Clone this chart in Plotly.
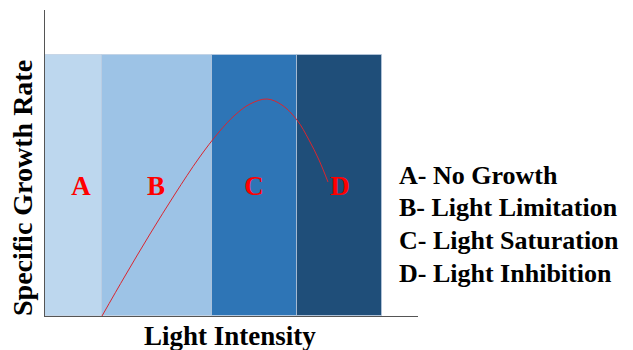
import plotly.graph_objects as go

# Regions (x in arbitrary light-intensity units)
region_labels = ["A", "B", "C", "D"]
region_edges = [0, 57, 167, 252, 337]
region_height = [261, 261, 261, 261]
region_colors = ["#BDD7EE", "#9DC3E6", "#2E75B6", "#1F4E79"]
label_x = [36, 111, 209, 295]
label_y = 128

# Growth curve
curve_x = [57, 80, 105, 130, 154, 174, 190, 205, 222, 237, 252, 264, 274, 283]
curve_y = [0, 40, 82, 122, 158, 184, 201, 212, 217, 211, 196, 176, 156, 134]

legend_lines = ["A- No Growth", "B- Light Limitation", "C- Light Saturation", "D- Light Inhibition"]

serif = "Liberation Serif"

centers = [(region_edges[i] + region_edges[i + 1]) / 2 for i in range(4)]
widths = [region_edges[i + 1] - region_edges[i] for i in range(4)]

fig = go.Figure()
fig.add_trace(go.Bar(
    x=centers, y=region_height, width=widths,
    marker=dict(color=region_colors, line=dict(color="rgba(190,205,225,0.7)", width=1)),
    hoverinfo="skip", showlegend=False,
))
fig.add_trace(go.Scatter(
    x=curve_x, y=curve_y, mode="lines", line=dict(color="#D9262F", width=1, shape="spline"),
    showlegend=False, hoverinfo="skip",
))
fig.add_trace(go.Scatter(
    x=label_x, y=[label_y] * 4, mode="text", text=[f"<b>{t}</b>" for t in region_labels],
    textfont=dict(family=serif, size=27, color="#FF0000"),
    showlegend=False, hoverinfo="skip",
))

# plot area: 373 x 306 px
PW, PH = 373, 306
annotations = []
for i, line in enumerate(legend_lines):
    annotations.append(dict(
        xref="paper", yref="paper", x=(397 - 45) / PW, y=(316 - (175 + 32.7 * i)) / PH,
        xanchor="left", yanchor="middle", showarrow=False,
        text=f"<b>{line}</b>", font=dict(family=serif, size=26, color="black"),
    ))
annotations.append(dict(
    xref="paper", yref="paper", x=(230 - 45) / PW, y=-(336 - 316) / PH,
    xanchor="center", yanchor="middle", showarrow=False,
    text="<b>Light Intensity</b>", font=dict(family=serif, size=27, color="black"),
))
annotations.append(dict(
    xref="paper", yref="paper", x=-(45 - 23) / PW, y=(316 - 188) / PH,
    xanchor="center", yanchor="middle", showarrow=False, textangle=-90,
    text="<b>Specific Growth Rate</b>", font=dict(family=serif, size=28, color="black"),
))

fig.update_layout(
    width=625, height=342,
    margin=dict(l=37, r=215, t=2, b=34, autoexpand=False),
    paper_bgcolor="white", plot_bgcolor="white",
    bargap=0,
    xaxis=dict(range=[0, 373], showgrid=False, zeroline=False, showticklabels=False, ticks="",
               showline=True, linecolor="#555555", linewidth=1, fixedrange=True),
    yaxis=dict(range=[0, 306], showgrid=False, zeroline=False, showticklabels=False, ticks="",
               showline=True, linecolor="#555555", linewidth=1, fixedrange=True),
    annotations=annotations,
)

fig.write_html("out.html")
